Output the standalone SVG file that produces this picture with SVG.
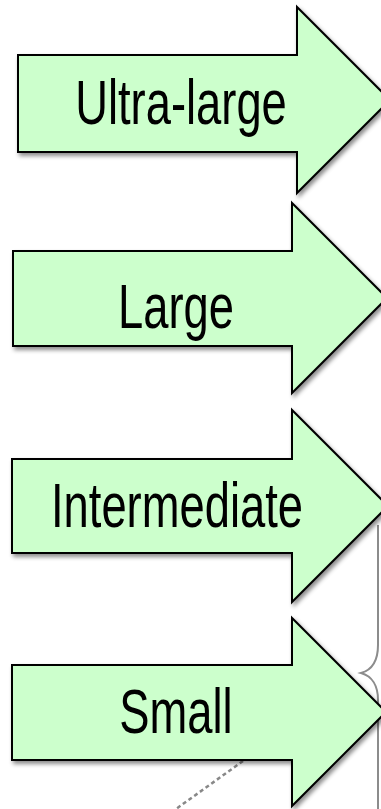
<svg xmlns="http://www.w3.org/2000/svg" width="381" height="809" viewBox="0 0 381 809">
  <style>
    .arrow { fill: #ccffcc; stroke: #000; stroke-width: 2; stroke-linejoin: miter; filter: url(#shadow); }
    .label { font-family: "Liberation Sans", Arial, sans-serif; font-size: 63px; fill: #000; text-anchor: middle; }
    .guide { fill: none; stroke: #8c8c8c; stroke-width: 2; }
    .dash { fill: none; stroke: #888; stroke-width: 2.5; stroke-dasharray: 4 3; }
  </style>
  <defs>
    <filter id="shadow" x="-10%" y="-10%" width="130%" height="130%">
      <feDropShadow dx="2" dy="3" stdDeviation="2" flood-color="#000" flood-opacity="0.45"/>
    </filter>
  </defs>

  <!-- background guides -->
  <g id="connectors">
    <path class="guide" d="M378,525 V645 C378,660 372,670 361,673 C372,676 378,686 378,700 V809"/>
    <path class="dash" d="M243,761 L176,809"/>
  </g>

  <g id="ultra-large">
    <path class="arrow" d="M18,55 H297 V7 L390,100 L297,193 V152 H18 Z"/>
    <text class="label" transform="translate(181,124) scale(0.72,1)">Ultra-large</text>
  </g>

  <g id="large">
    <path class="arrow" d="M13,251 H292 V203 L387,298 L292,393 V346 H13 Z"/>
    <text class="label" transform="translate(176,328) scale(0.72,1)">Large</text>
  </g>

  <g id="intermediate">
    <path class="arrow" d="M12,459 H292 V410 L388,506 L292,602 V553 H12 Z"/>
    <text class="label" transform="translate(177,527) scale(0.72,1)">Intermediate</text>
  </g>

  <g id="small">
    <path class="arrow" d="M12,665 H292 V618 L386,712 L292,806 V760 H12 Z"/>
    <text class="label" transform="translate(176,733) scale(0.72,1)">Small</text>
  </g>
</svg>
